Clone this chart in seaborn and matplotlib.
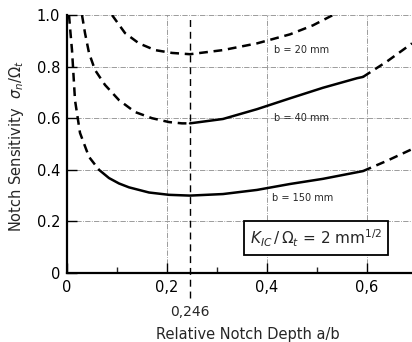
import numpy as np
import pandas as pd
import matplotlib
matplotlib.use("Agg")
import matplotlib.pyplot as plt
import seaborn as sns

# curve b = 150 mm
b150_x = [0.004, 0.007, 0.010, 0.016, 0.026, 0.044, 0.064, 0.084, 0.104, 0.124, 0.164, 0.204, 0.246, 0.312, 0.38, 0.446, 0.512, 0.592, 0.64, 0.69]
b150_y = [1.0, 0.93, 0.864, 0.67, 0.543, 0.45, 0.40, 0.368, 0.347, 0.332, 0.312, 0.303, 0.30, 0.306, 0.322, 0.345, 0.365, 0.395, 0.435, 0.48]
b150_solid = (0.064, 0.592)

# curve b = 40 mm
b40_x = [0.03, 0.036, 0.044, 0.056, 0.076, 0.104, 0.136, 0.17, 0.204, 0.23, 0.246, 0.312, 0.38, 0.446, 0.512, 0.58, 0.592, 0.64, 0.69]
b40_y = [1.0, 0.93, 0.853, 0.787, 0.729, 0.67, 0.624, 0.60, 0.585, 0.58, 0.58, 0.597, 0.635, 0.677, 0.718, 0.755, 0.76, 0.82, 0.89]
b40_solid = (0.246, 0.592)

# curve b = 20 mm (dashed everywhere)
b20_x = [0.09, 0.116, 0.144, 0.176, 0.21, 0.246, 0.312, 0.38, 0.446, 0.492, 0.532]
b20_y = [1.0, 0.93, 0.89, 0.864, 0.853, 0.848, 0.864, 0.89, 0.925, 0.96, 1.0]

curve_labels = ["b = 20 mm", "b = 40 mm", "b = 150 mm"]
label_pos = [(0.47, 0.864), (0.47, 0.60), (0.472, 0.29)]

x_ticks = [0, 0.2, 0.4, 0.6]
x_ticklabels = ["0", "0,2", "0,4", "0,6"]
y_ticks = [0, 0.2, 0.4, 0.6, 0.8, 1.0]
y_ticklabels = ["0", "0.2", "0.4", "0.6", "0.8", "1.0"]
a_opt = 0.246

sns.set_style("ticks")
plt.rcParams["font.family"] = ["DejaVu Sans"]

fig = plt.figure(figsize=(4.12, 3.42), dpi=100)
ax = fig.add_axes([67 / 412, 69 / 342, 345 / 412, 258 / 342])

dash = (0, (3.5, 2.3))


def draw_curve(xs, ys, solid=None):
    df = pd.DataFrame({"x": xs, "y": ys})
    if solid is None:
        sns.lineplot(data=df, x="x", y="y", ax=ax, color="black", lw=1.8,
                     linestyle=dash, sort=False, estimator=None)
        return
    lo, hi = solid
    parts = [(df[df.x <= lo], dash), (df[(df.x >= lo) & (df.x <= hi)], "-"), (df[df.x >= hi], dash)]
    for part, ls in parts:
        sns.lineplot(data=part, x="x", y="y", ax=ax, color="black", lw=1.8,
                     linestyle=ls, sort=False, estimator=None)


draw_curve(b20_x, b20_y)
draw_curve(b40_x, b40_y, b40_solid)
draw_curve(b150_x, b150_y, b150_solid)

# optimum notch depth marker
ax.plot([a_opt, a_opt], [-0.095, 1.0], color="black", lw=1.0,
        linestyle=(0, (5, 3.5)), clip_on=False)
ax.text(a_opt, -0.152, "0,246", ha="center", va="center", fontsize=10)

for lab, (lx, ly) in zip(curve_labels, label_pos):
    ax.text(lx, ly, lab, ha="center", va="center", fontsize=7)

ax.text(0.498, 0.136, r"$K_{IC}\,/\,\Omega_t$ = 2 mm$^{1/2}$", ha="center", va="center",
        fontsize=11, bbox=dict(boxstyle="square,pad=0.4", fc="white", ec="black", lw=1.3))

ax.set_xlim(0, 0.69)
ax.set_ylim(0, 1.0)
ax.set_xticks(x_ticks)
ax.set_xticklabels(x_ticklabels)
ax.set_xticks([0.1, 0.3, 0.5], minor=True)
ax.set_yticks(y_ticks)
ax.set_yticklabels(y_ticklabels)
ax.tick_params(axis="both", which="major", direction="in", length=7, width=1.0,
               labelsize=10.5, colors="black")
ax.tick_params(axis="x", which="major", pad=5)
ax.tick_params(axis="y", which="major", pad=5)
ax.tick_params(axis="x", which="minor", direction="in", length=4, width=1.0)
ax.grid(True, which="major", color="0.55", lw=0.6, linestyle="-.")

for side in ["top", "right"]:
    ax.spines[side].set_visible(False)
for side in ["left", "bottom"]:
    ax.spines[side].set_linewidth(1.6)
    ax.spines[side].set_color("black")

ax.set_xlabel("Relative Notch Depth a/b", fontsize=10.5)
ax.xaxis.set_label_coords(0.525, -0.21)
ax.set_ylabel(r"Notch Sensitivity  $\sigma_n/\Omega_t$", fontsize=10.5)
ax.yaxis.set_label_coords(-0.119, 0.49)

fig.savefig("out.png", dpi=100)
